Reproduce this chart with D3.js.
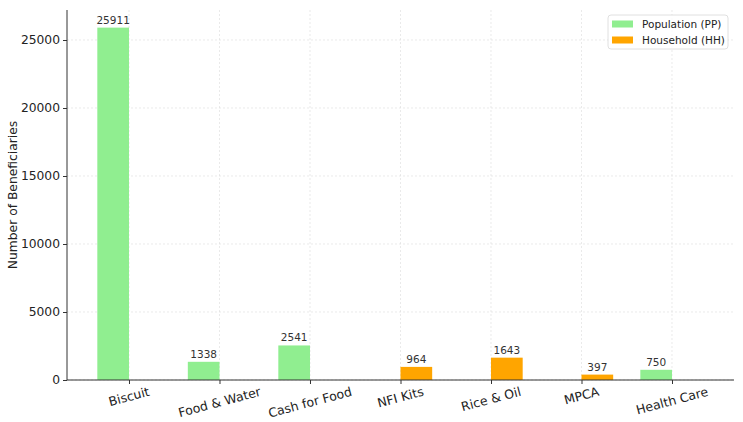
<!DOCTYPE html>
<html><head><meta charset="utf-8">
<script src="https://cdn.jsdelivr.net/npm/d3@7"></script>
<style>body{margin:0;background:#fff;} text{font-family:"DejaVu Sans",sans-serif;}</style>
</head><body>
<svg id="c" width="743" height="422"></svg>
<script>
const categories = ["Biscuit","Food & Water","Cash for Food","NFI Kits","Rice & Oil","MPCA","Health Care"];
const populationPP = [25911,1338,2541,0,0,0,750];
const householdHH = [0,0,0,964,1643,397,0];
const yTicks = [0,5000,10000,15000,20000,25000];
const seriesNames = ["Population (PP)","Household (HH)"];
const colors = ["#90EE90","#FFA500"];

const svg = d3.select("#c");
const L=67, R=734, T=10, B=380;
const barW = 0.35;
const n = categories.length;
const x = d3.scaleLinear().domain([-barW - 0.335, (n-1) + barW + 0.335]).range([L,R]);
const ymax = d3.max(populationPP.concat(householdHH))*1.05;
const y = d3.scaleLinear().domain([0,ymax]).range([B,T]);

// grid
const g = svg.append("g");
g.selectAll(".gx").data(d3.range(n)).join("line")
 .attr("x1",d=>x(d)).attr("x2",d=>x(d)).attr("y1",T).attr("y2",B)
 .attr("stroke","#dcdcdc").attr("stroke-width",0.6).attr("stroke-dasharray","2,2");
g.selectAll(".gy").data(yTicks).join("line")
 .attr("x1",L).attr("x2",R).attr("y1",d=>y(d)).attr("y2",d=>y(d))
 .attr("stroke","#dcdcdc").attr("stroke-width",0.6).attr("stroke-dasharray","2,2");

// bars
const series = [populationPP, householdHH];
series.forEach((vals,si)=>{
  const off = si===0 ? -barW : 0;
  svg.append("g").selectAll("rect").data(vals).join("rect")
   .attr("x",(d,i)=>x(i+off)).attr("width",x(barW)-x(0))
   .attr("y",d=>y(d)).attr("height",d=>B-y(d)).attr("fill",colors[si]);
  svg.append("g").selectAll("text").data(vals.map((v,i)=>({v,i})).filter(d=>d.v>0)).join("text")
   .attr("x",d=>x(d.i+off+barW/2)).attr("y",d=>y(d.v)-4)
   .attr("text-anchor","middle").attr("font-size",10.5).attr("fill","#333")
   .text(d=>d.v);
});

// axes
const ya = svg.append("g").attr("transform",`translate(${L},0)`)
 .call(d3.axisLeft(y).tickValues(yTicks).tickSize(4).tickPadding(3).tickFormat(d3.format("d")));
ya.select(".domain").attr("stroke","#333").attr("d",`M0,${T}V${B}`);
ya.selectAll(".tick line").attr("stroke","#333");
ya.selectAll(".tick text").attr("font-size",12.3).attr("fill","#222").attr("font-family","DejaVu Sans");

const xa = svg.append("g").attr("transform",`translate(0,${B})`)
 .call(d3.axisBottom(x).tickValues(d3.range(n)).tickSize(4).tickFormat(""));
xa.select(".domain").attr("stroke","#333").attr("d",`M${L},0H${R}`);
xa.selectAll(".tick line").attr("stroke","#333");

// rotated x labels
const ang = 15*Math.PI/180;
categories.forEach((c,i)=>{
  const t = svg.append("text").attr("font-size",12.5).attr("fill","#222")
    .attr("text-anchor","middle").attr("dominant-baseline","central").text(c);
  const w = t.node().getComputedTextLength();
  const h = 12.5*1.0;
  const bh = w*Math.sin(ang)+h*Math.cos(ang);
  const cy = B + 5 + bh/2;
  t.attr("transform",`translate(${x(i)},${cy}) rotate(-15)`);
});

// y label
svg.append("text").attr("transform",`translate(13,${(T+B)/2}) rotate(-90)`)
 .attr("text-anchor","middle").attr("dominant-baseline","central")
 .attr("font-size",12.3).attr("fill","#222").text("Number of Beneficiaries");

// legend
const lg = svg.append("g");
lg.append("rect").attr("x",608).attr("y",15).attr("width",120).attr("height",34).attr("rx",3)
 .attr("fill","rgba(255,255,255,0.8)").attr("stroke","#d8d8d8").attr("stroke-width",0.8);
seriesNames.forEach((s,i)=>{
  lg.append("rect").attr("x",612).attr("y",20.5+i*16).attr("width",21).attr("height",7).attr("fill",colors[i]);
  lg.append("text").attr("x",642).attr("y",24+i*16).attr("dominant-baseline","central")
   .attr("font-size",10.5).attr("fill","#222").text(s);
});
</script>
</body></html>
